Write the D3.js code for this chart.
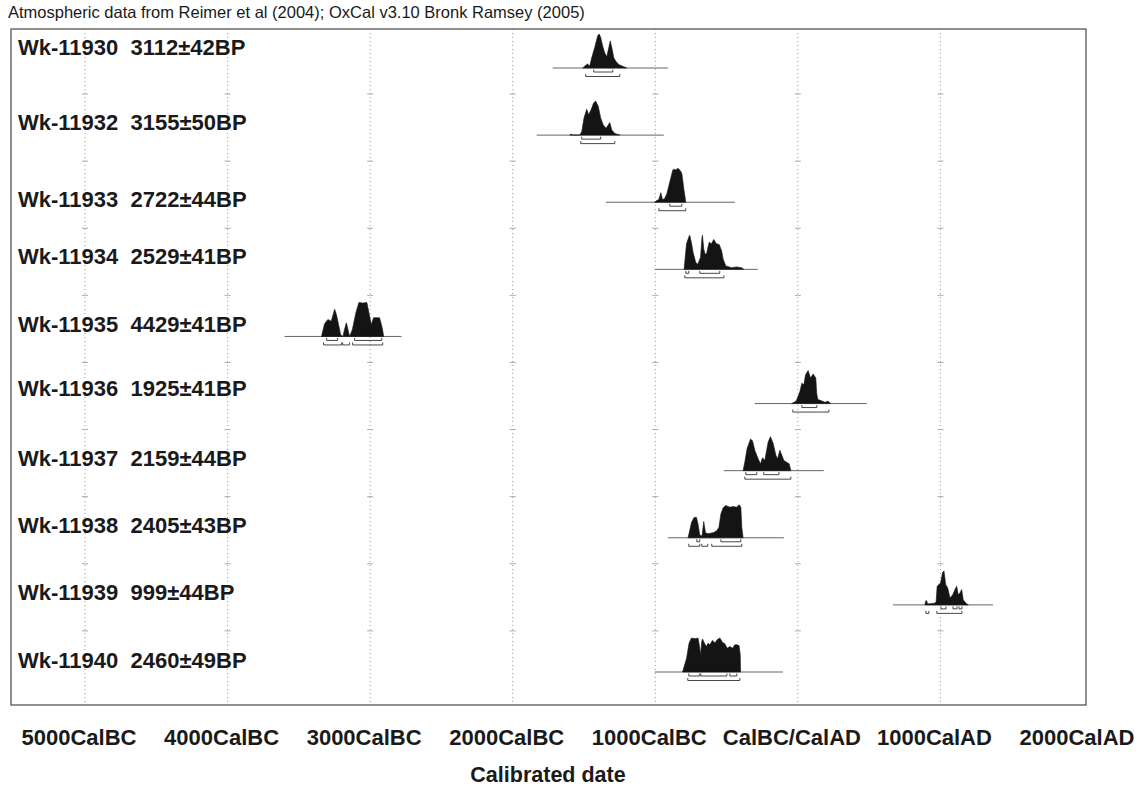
<!DOCTYPE html>
<html>
<head>
<meta charset="utf-8">
<script src="https://cdn.jsdelivr.net/npm/d3@7"></script>
<style>
  body { margin: 0; background: #fff; }
  text { font-family: "Liberation Sans", Arial, Helvetica, sans-serif; fill: #1a1a1a; }
</style>
</head>
<body>
<div id="chart"></div>
<script>
// sample codes and radiocarbon ages
var labs    = ['Wk-11930', 'Wk-11932', 'Wk-11933', 'Wk-11934', 'Wk-11935',
               'Wk-11936', 'Wk-11937', 'Wk-11938', 'Wk-11939', 'Wk-11940'];
var bpAges  = [3112, 3155, 2722, 2529, 4429, 1925, 2159, 2405, 999, 2460];
var bpErrs  = [42, 50, 44, 41, 41, 41, 44, 43, 44, 49];

// plotted span of each calibration (cal years, BC negative)
var plotRanges = [[-1720,-910],[-1832,-940],[-1347,-442],[-1004,-281],[-3600,-2780],
                  [-302,484],[-519,182],[-912,-98],[667,1368],[-1004,-105]];

// probability densities, [cal year, relative probability]
var dens11930 = [[-1509,0],[-1488,0.08],[-1474,0.12],[-1460,0.05],[-1446,0.3],[-1425,0.6],[-1404,0.95],
  [-1393,1],[-1383,0.9],[-1369,0.65],[-1355,0.45],[-1340,0.33],[-1326,0.6],[-1316,0.8],[-1305,0.6],
  [-1291,0.3],[-1277,0.2],[-1256,0.1],[-1228,0.05],[-1200,0]];
var dens11932 = [[-1600,0],[-1590,0.03],[-1580,0],[-1530,0],[-1516,0.1],[-1500,0.5],[-1481,0.76],
  [-1467,0.6],[-1450,0.75],[-1432,0.95],[-1418,1],[-1400,0.85],[-1383,0.5],[-1365,0.3],[-1345,0.2],
  [-1330,0.3],[-1319,0.37],[-1305,0.15],[-1284,0.05],[-1263,0.02],[-1249,0]];
var dens11933 = [[-1004,0],[-990,0.05],[-975,0.08],[-961,0.28],[-950,0.08],[-935,0.1],[-919,0.25],
  [-898,0.6],[-877,0.95],[-866,0.97],[-856,0.95],[-842,1],[-828,0.95],[-814,0.85],[-800,0.4],[-786,0]];
var dens11934 = [[-798,0],[-781,0.75],[-765,0.95],[-758,1],[-745,0.75],[-735,0.5],[-716,0.2],[-702,0.15],
  [-683,0.35],[-672,0.95],[-669,1],[-660,0.6],[-651,0.45],[-641,0.45],[-622,0.8],[-606,0.75],[-590,0.88],
  [-571,0.75],[-552,0.73],[-535,0.55],[-524,0.3],[-505,0.1],[-465,0.05],[-430,0.07],[-395,0.05],[-379,0]];
var dens11935 = [[-3341,0],[-3320,0.37],[-3296,0.5],[-3273,0.45],[-3249,0.8],[-3237,0.65],[-3219,0.3],
  [-3207,0.05],[-3191,0],[-3180,0.2],[-3167,0.4],[-3155,0.2],[-3144,0],[-3125,0.2],[-3100,0.7],
  [-3079,1],[-3050,0.98],[-3023,1],[-3004,0.6],[-2992,0.35],[-2976,0.55],[-2934,0.55],[-2915,0.25],[-2905,0]];
var dens11936 = [[-44,0],[-20,0.05],[-9,0.1],[14,0.35],[28,0.6],[42,0.55],[54,0.85],[72,0.97],[89,0.75],
  [107,0.87],[126,0.75],[132,0.3],[140,0.12],[166,0.08],[189,0.04],[213,0.07],[229,0]];
var dens11937 = [[-384,0],[-370,0.3],[-356,0.65],[-332,0.93],[-318,0.88],[-302,0.6],[-279,0.35],[-262,0.2],
  [-248,0.38],[-232,0.3],[-208,0.85],[-192,1],[-173,0.8],[-154,0.45],[-142,0.35],[-126,0.6],[-112,0.45],
  [-98,0.3],[-79,0.25],[-61,0.2],[-49,0]];
var dens11938 = [[-770,0],[-746,0.45],[-728,0.6],[-711,0.6],[-700,0.4],[-688,0.08],[-672,0.05],[-660,0.48],
  [-648,0.15],[-630,0.12],[-594,0.15],[-571,0.2],[-554,0.3],[-540,0.7],[-524,0.88],[-505,0.95],[-477,0.9],
  [-454,0.92],[-430,0.9],[-412,0.97],[-400,0.9],[-393,0.3],[-384,0]];
var dens11939 = [[891,0],[897,0.12],[903,0.12],[910,0.03],[921,0.03],[961,0.05],[970,0.1],[977,0.55],
  [990,0.6],[1001,0.65],[1015,0.95],[1025,1],[1037,0.6],[1051,0.5],[1067,0.2],[1086,0.3],[1102,0.45],
  [1114,0.55],[1125,0.3],[1137,0.35],[1149,0.45],[1160,0.15],[1179,0.05],[1195,0]];
var dens11940 = [[-809,0],[-781,0.4],[-763,0.85],[-746,1],[-720,0.98],[-700,1],[-688,0.7],[-683,0.5],
  [-674,0.9],[-669,0.97],[-653,0.83],[-641,0.75],[-630,0.85],[-618,0.8],[-599,0.93],[-582,0.85],[-566,0.95],
  [-547,1],[-528,0.87],[-512,0.83],[-496,0.7],[-477,0.75],[-458,0.7],[-442,0.8],[-426,0.8],[-412,0.77],
  [-404,0.5],[-402,0]];
var densities = [dens11930, dens11932, dens11933, dens11934, dens11935,
                 dens11936, dens11937, dens11938, dens11939, dens11940];

// 68.2% and 95.4% ranges
var sigma1 = [[[-1432,-1298]], [[-1516,-1383]], [[-898,-814]], [[-786,-765],[-688,-548]],
  [[-3305,-3228],[-3109,-2919]], [[28,133]], [[-365,-288],[-239,-133]], [[-709,-688],[-540,-400]],
  [[1004,1039],[1088,1116],[1130,1151]], [[-765,-688],[-681,-498],[-477,-428]]];
var sigma2 = [[[-1488,-1249]], [[-1523,-1284]], [[-975,-786]], [[-793,-519]],
  [[-3327,-3200],[-3193,-3144],[-3123,-2912]], [[-35,218]], [[-372,-49]],
  [[-765,-688],[-674,-632],[-604,-393]], [[898,919],[975,1151]], [[-772,-407]]];

var tickYears  = [-5000, -4000, -3000, -2000, -1000, 0, 1000, 2000];
var tickLabels = ['5000CalBC', '4000CalBC', '3000CalBC', '2000CalBC', '1000CalBC',
                  'CalBC/CalAD', '1000CalAD', '2000CalAD'];

var titleText = 'Atmospheric data from Reimer et al (2004); OxCal v3.10 Bronk Ramsey (2005)';
var axisTitle = 'Calibrated date';

// layout
var W = 1143, H = 789;
var frame = {left: 11, right: 1086, top: 29, bottom: 705};
var labelY = [55, 130, 207, 264, 332, 396, 466, 533, 600, 668];
var peakHeight = 34;

var svg = d3.select('#chart').append('svg')
    .attr('width', W).attr('height', H);

var x = d3.scaleLinear().domain([-5000, 2000]).range([85, 1083]);
var row = d3.scaleLinear().domain([0, labs.length - 1]).range([68, 672]);
var h = d3.scaleLinear().domain([0, 1]).range([0, peakHeight]);

// title
svg.append('text')
    .attr('x', 8).attr('y', 18)
    .style('font-size', '16.5px')
    .text(titleText);

// dotted grid lines
var grid = svg.append('g').attr('class', 'grid');
grid.selectAll('line')
    .data(tickYears.filter(function(d) { return d < 2000; }))
    .enter().append('line')
    .attr('x1', function(d) { return x(d); })
    .attr('x2', function(d) { return x(d); })
    .attr('y1', frame.top).attr('y2', frame.bottom)
    .attr('stroke', '#999').attr('stroke-width', 1)
    .attr('stroke-dasharray', '1,3');

// little cross marks on the grid between rows
tickYears.filter(function(d) { return d < 2000; }).forEach(function(yr) {
    d3.range(labs.length - 1).forEach(function(i) {
        grid.append('line')
            .attr('x1', x(yr) - 3).attr('x2', x(yr) + 3)
            .attr('y1', row(i) + 26).attr('y2', row(i) + 26)
            .attr('stroke', '#aaa').attr('stroke-width', 1);
    });
});

// frame
svg.append('rect')
    .attr('x', frame.left).attr('y', frame.top)
    .attr('width', frame.right - frame.left).attr('height', frame.bottom - frame.top)
    .attr('fill', 'none').attr('stroke', '#555').attr('stroke-width', 1.3);

// sample labels
svg.append('g').selectAll('text')
    .data(labs)
    .enter().append('text')
    .attr('x', 18)
    .attr('y', function(d, i) { return labelY[i]; })
    .style('font-size', '22px').style('font-weight', 'bold')
    .attr('xml:space', 'preserve')
    .text(function(d, i) { return d + '  ' + bpAges[i] + '\u00b1' + bpErrs[i] + 'BP'; });

var area = d3.area()
    .x(function(d) { return x(d[0]); })
    .curve(d3.curveLinear);

var dists = svg.append('g').attr('class', 'dists');

densities.forEach(function(dens, i) {
    var base = row(i);
    var g = dists.append('g');

    // plotted span
    g.append('line')
        .attr('x1', x(plotRanges[i][0])).attr('x2', x(plotRanges[i][1]))
        .attr('y1', base).attr('y2', base)
        .attr('stroke', '#666').attr('stroke-width', 1);

    g.append('path')
        .datum(dens)
        .attr('d', area.y0(base).y1(function(d) { return base - h(d[1]); }))
        .attr('fill', '#141414').attr('stroke', '#141414').attr('stroke-width', 0.6);

    // range brackets
    [[sigma1[i], 4], [sigma2[i], 8.5]].forEach(function(s) {
        var yy = base + s[1];
        s[0].forEach(function(r) {
            var x0 = x(r[0]), x1 = x(r[1]);
            g.append('path')
                .attr('d', 'M' + x0 + ',' + (yy - 2.5) + 'L' + x0 + ',' + yy +
                           'L' + x1 + ',' + yy + 'L' + x1 + ',' + (yy - 2.5))
                .attr('fill', 'none').attr('stroke', '#333').attr('stroke-width', 0.9);
        });
    });
});

// axis labels
svg.append('g').selectAll('text')
    .data(tickYears)
    .enter().append('text')
    .attr('x', function(d) { return x(d) - 6; })
    .attr('y', 745)
    .attr('text-anchor', 'middle')
    .style('font-size', '22px').style('font-weight', 'bold')
    .text(function(d, i) { return tickLabels[i]; });

svg.append('text')
    .attr('x', 548).attr('y', 782)
    .attr('text-anchor', 'middle')
    .style('font-size', '21.5px').style('font-weight', 'bold')
    .text(axisTitle);
</script>
</body>
</html>
